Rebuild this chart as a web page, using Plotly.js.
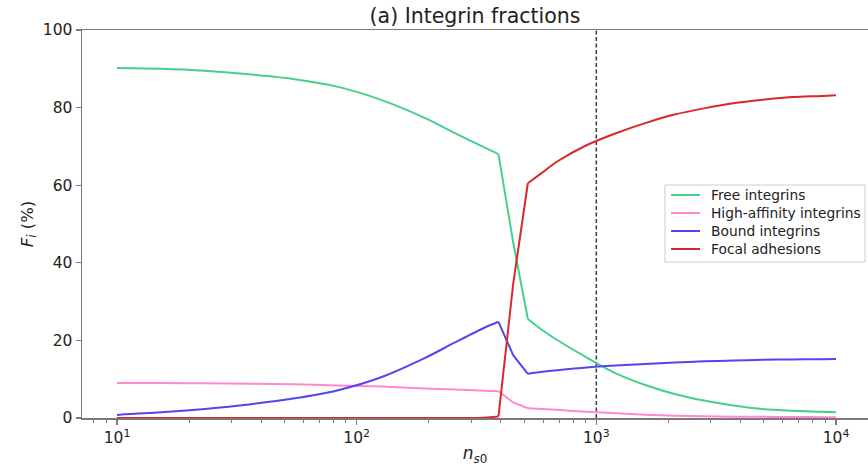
<!DOCTYPE html>
<html>
<head>
<meta charset="utf-8">
<script src="https://cdn.plot.ly/plotly-3.0.1.min.js"></script>
<style>html,body{margin:0;padding:0;background:#fff;}#chart{width:868px;height:466px;}</style>
</head>
<body>
<div id="chart"></div>
<script>
// n_s0 values (log-spaced samples)
var nS0 = [10, 15.26, 23.30, 35.56, 54.29, 82.86, 126.49, 193.07, 255.95, 339.32, 390.69, 449.84, 517.95, 596.36, 686.65, 910.30, 1206.79, 1599.86, 2120.95, 2811.77, 3727.59, 4941.71, 6551.29, 8685.11, 10000];
var freeIntegrins = [90.2, 90.0, 89.5, 88.6, 87.4, 85.4, 82.0, 77.3, 73.5, 69.8, 68.0, 45.3, 25.5, 22.6, 20.1, 15.6, 11.5, 8.5, 6.2, 4.5, 3.2, 2.3, 1.85, 1.6, 1.45];
var highAffinity = [9.0, 9.0, 8.95, 8.85, 8.7, 8.4, 8.1, 7.6, 7.35, 7.05, 6.9, 4.0, 2.5, 2.3, 2.1, 1.6, 1.2, 0.85, 0.6, 0.45, 0.35, 0.3, 0.25, 0.22, 0.2];
var boundIntegrins = [0.8, 1.45, 2.35, 3.5, 5.0, 7.1, 10.5, 15.5, 19.4, 23.2, 24.8, 16.2, 11.4, 11.9, 12.3, 13.0, 13.5, 13.9, 14.3, 14.6, 14.8, 15.0, 15.1, 15.15, 15.2];
var focalAdhesions = [0, 0, 0, 0, 0, 0, 0, 0, 0.02, 0.08, 0.4, 34.5, 60.5, 63.3, 66.1, 70.3, 73.4, 76.0, 78.2, 79.8, 81.1, 82.0, 82.7, 83.0, 83.2];

var seriesNames = ["Free integrins", "High-affinity integrins", "Bound integrins", "Focal adhesions"];
var seriesColors = ["#45d08c", "#ff88cc", "#5246ee", "#d8282c"];

var refLineX = [1000, 1000];
var refLineY = [0, 100];

var xTickVals = [10, 100, 1000, 10000];
var xTickText = ["10<sup>1</sup>", "10<sup>2</sup>", "10<sup>3</sup>", "10<sup>4</sup>"];
var xMinorVals = [8, 9, 20, 30, 40, 50, 60, 70, 80, 90, 200, 300, 400, 500, 600, 700, 800, 900, 2000, 3000, 4000, 5000, 6000, 7000, 8000, 9000];
var yTickVals = [0, 20, 40, 60, 80, 100];

// smooth parts drawn as splines, the sharp transition drawn straight
var transitionStart = 10, transitionEnd = 12;

var seriesValues = [freeIntegrins, highAffinity, boundIntegrins, focalAdhesions];
var traces = [];
traces.push({
  x: refLineX, y: refLineY, mode: "lines", showlegend: false, hoverinfo: "skip",
  line: {color: "#3a3a3a", width: 1.5, dash: "4px,2.5px"}
});
for (var i = 0; i < seriesValues.length; i++) {
  var v = seriesValues[i];
  var parts = [
    [0, transitionStart, "spline"],
    [transitionStart, transitionEnd, "linear"],
    [transitionEnd, nS0.length - 1, "spline"]
  ];
  for (var p = 0; p < parts.length; p++) {
    var a = parts[p][0], b = parts[p][1];
    traces.push({
      x: nS0.slice(a, b + 1), y: v.slice(a, b + 1), mode: "lines",
      name: seriesNames[i], showlegend: false,
      line: {color: seriesColors[i], width: 2, shape: parts[p][2], smoothing: 0.8}
    });
  }
}

// legend box (matplotlib-style), drawn in paper coordinates
var legBox = {x0: 0.7417, x1: 0.9962, y0: 0.402, y1: 0.6005};
var legRowY = [0.5747, 0.5284, 0.4820, 0.4356];
var shapes = [{
  type: "rect", xref: "paper", yref: "paper",
  x0: legBox.x0, x1: legBox.x1, y0: legBox.y0, y1: legBox.y1,
  line: {color: "#cccccc", width: 1}, fillcolor: "rgba(255,255,255,0.8)", layer: "above"
}];
var annotations = [];
for (var k = 0; k < seriesNames.length; k++) {
  shapes.push({
    type: "line", xref: "paper", yref: "paper",
    x0: 0.7494, x1: 0.7863, y0: legRowY[k], y1: legRowY[k],
    line: {color: seriesColors[k], width: 2}, layer: "above"
  });
  annotations.push({
    xref: "paper", yref: "paper", x: 0.7977, y: legRowY[k],
    xanchor: "left", yanchor: "middle", showarrow: false,
    text: seriesNames[k],
    font: {family: "DejaVu Sans, sans-serif", size: 13.8, color: "#222222"}
  });
}

var axisColor = "#7a7a7a";
var layout = {
  width: 868, height: 466,
  margin: {l: 82, r: 0, t: 30, b: 48, pad: 0},
  paper_bgcolor: "#ffffff", plot_bgcolor: "#ffffff",
  font: {family: "DejaVu Sans, sans-serif", size: 15, color: "#222222"},
  title: {
    text: "(a) Integrin fractions",
    font: {family: "DejaVu Sans, sans-serif", size: 20.5, color: "#222222"},
    x: 0.5, xref: "paper", xanchor: "center",
    y: 0.966, yref: "container", yanchor: "middle"
  },
  xaxis: {
    type: "log", range: [0.854, 4.1336],
    showgrid: false, zeroline: false,
    showline: true, linecolor: axisColor, linewidth: 1.5, mirror: true,
    ticks: "outside", ticklen: 5, tickwidth: 1.2, tickcolor: axisColor,
    tickmode: "array", tickvals: xTickVals, ticktext: xTickText,
    tickfont: {size: 15.5, color: "#222222"},
    minor: {tickmode: "array", tickvals: xMinorVals, ticks: "outside", ticklen: 3, tickwidth: 1, tickcolor: axisColor, showgrid: false},
    title: {text: "<i>n</i><sub><i>s</i>0</sub>", font: {size: 17, color: "#222222"}, standoff: 4}
  },
  yaxis: {
    range: [0, 100],
    showgrid: false, zeroline: false,
    showline: true, linecolor: axisColor, linewidth: 1.5, mirror: false,
    ticks: "outside", ticklen: 5, tickwidth: 1.2, tickcolor: axisColor,
    tickmode: "array", tickvals: yTickVals,
    tickfont: {size: 15.5, color: "#222222"},
    title: {text: "<i>F<sub>i</sub></i> (%)", font: {size: 16.5, color: "#222222"}, standoff: 5}
  },
  shapes: shapes,
  annotations: annotations,
  showlegend: false
};

Plotly.newPlot("chart", traces, layout, {staticPlot: true, displayModeBar: false});
</script>
</body>
</html>
